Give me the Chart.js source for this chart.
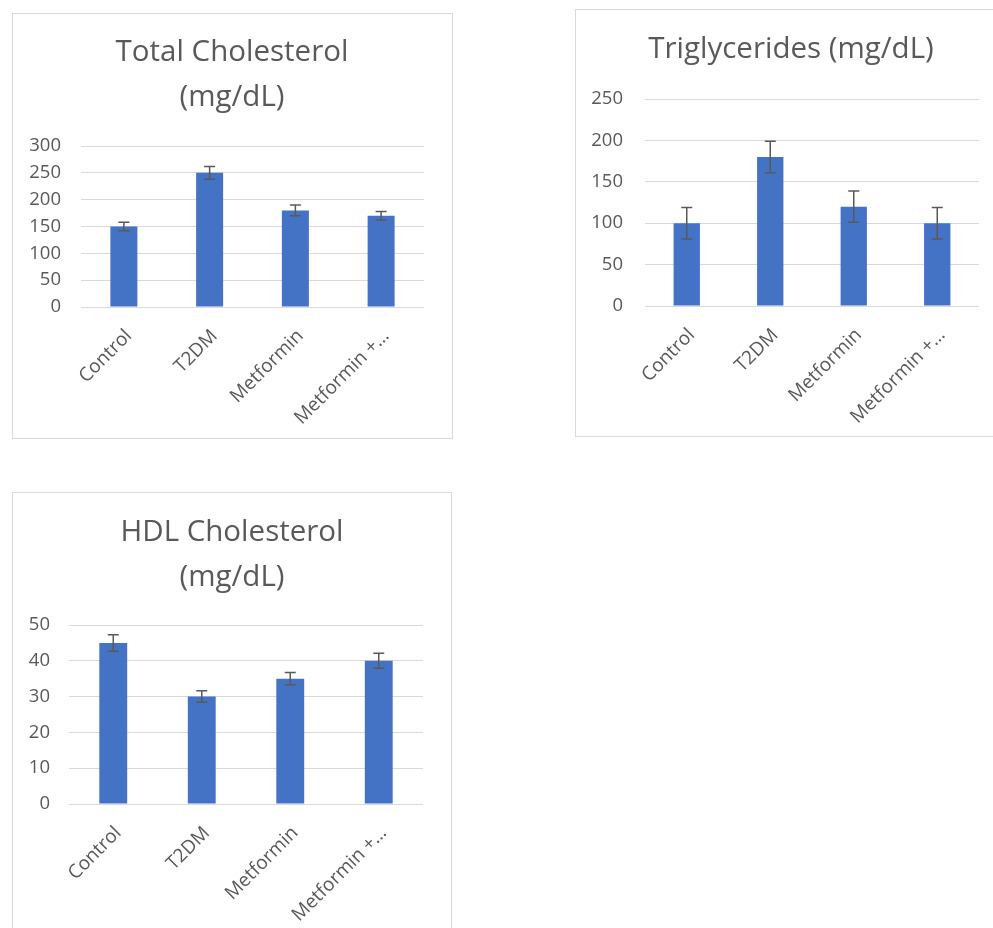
<!DOCTYPE html>
<html><head><meta charset="utf-8">
<script src="https://cdn.jsdelivr.net/npm/chart.js@4/dist/chart.umd.min.js"></script>
<style>
html,body{margin:0;padding:0;background:#fff;overflow:hidden;width:993px;height:928px;}
.frame{position:absolute;border:1px solid #D9D9D9;box-sizing:border-box;}
.cv{position:absolute;}
</style></head><body>
<div class="frame" style="left:12px;top:13px;width:441px;height:426px"></div>
<div class="frame" style="left:575px;top:9px;width:440px;height:428px"></div>
<div class="frame" style="left:12px;top:492px;width:440px;height:460px"></div>
<canvas id="c1" class="cv" style="left:12px;top:13px" width="440" height="425"></canvas>
<canvas id="c2" class="cv" style="left:575px;top:9px" width="432" height="427"></canvas>
<canvas id="c3" class="cv" style="left:12px;top:492px" width="440" height="436"></canvas>
<script>
const categories = ['Control', 'T2DM', 'Metformin', 'Metformin +\u2026'];

const totalCholTitle = ['Total Cholesterol', '(mg/dL)'];
const totalCholValues = [150, 250, 180, 170];
const totalCholErrors = [8, 12, 10, 8];
const totalCholTicks = [0, 50, 100, 150, 200, 250, 300];

const trigTitle = ['Triglycerides (mg/dL)'];
const trigValues = [100, 180, 120, 100];
const trigErrors = [19, 19, 19, 19];
const trigTicks = [0, 50, 100, 150, 200, 250];

const hdlTitle = ['HDL Cholesterol', '(mg/dL)'];
const hdlValues = [45, 30, 35, 40];
const hdlErrors = [2.3, 1.6, 1.7, 2.1];
const hdlTicks = [0, 10, 20, 30, 40, 50];

Chart.defaults.font.family = "'Open Sans', 'Noto Sans', sans-serif";
Chart.defaults.color = '#595959';

const errorBarPlugin = {
  id: 'errorBars',
  afterDatasetsDraw(chart) {
    const ctx = chart.ctx;
    const y = chart.scales.y;
    const ds = chart.data.datasets[0];
    const meta = chart.getDatasetMeta(0);
    ctx.save();
    ctx.strokeStyle = '#595959';
    ctx.lineWidth = 1.5;
    meta.data.forEach((bar, i) => {
      const x = bar.x;
      const yt = y.getPixelForValue(ds.data[i] + ds.errors[i]);
      const yb = y.getPixelForValue(ds.data[i] - ds.errors[i]);
      ctx.beginPath();
      ctx.moveTo(x, yt); ctx.lineTo(x, yb);
      ctx.moveTo(x - 5.5, yt); ctx.lineTo(x + 5.5, yt);
      ctx.moveTo(x - 5.5, yb); ctx.lineTo(x + 5.5, yb);
      ctx.stroke();
    });
    ctx.restore();
  }
};

function makeChart(id, title, values, errors, ticks, g) {
  const step = ticks[1] - ticks[0];
  return new Chart(document.getElementById(id), {
    type: 'bar',
    data: {
      labels: categories,
      datasets: [{
        data: values,
        errors: errors,
        backgroundColor: '#4472C4',
        borderWidth: 0,
        categoryPercentage: 1,
        barPercentage: 0.315
      }]
    },
    plugins: [errorBarPlugin],
    options: {
      responsive: false,
      animation: false,
      devicePixelRatio: 1,
      layout: { autoPadding: false, padding: 0 },
      plugins: {
        legend: { display: false },
        tooltip: { enabled: false },
        title: {
          display: true,
          text: title,
          color: '#595959',
          font: { size: 29.5, weight: 'normal', lineHeight: '45px' },
          padding: { top: g.tTop, bottom: g.tBot }
        }
      },
      scales: {
        x: {
          grid: { display: false },
          border: { display: false },
          ticks: { minRotation: 45, maxRotation: 45, padding: g.xPad, labelOffset: 5, font: { size: 19 }, color: '#595959', autoSkip: false },
          afterFit: (s) => { s.height = g.xH; }
        },
        y: {
          min: ticks[0],
          max: ticks[ticks.length - 1],
          border: { display: false },
          grid: { color: '#D9D9D9', lineWidth: 1, drawTicks: false },
          ticks: { stepSize: step, padding: g.yPad, font: { size: 18.5 }, color: '#595959' },
          afterFit: (s) => { s.width = g.yW; }
        },
        gap: {
          type: 'linear',
          position: 'right',
          display: true,
          grid: { display: false },
          border: { display: false },
          ticks: { display: false },
          afterFit: (s) => { s.width = g.rW; }
        }
      }
    }
  });
}

makeChart('c1', totalCholTitle, totalCholValues, totalCholErrors, totalCholTicks,
  { yW: 69, rW: 28, xH: 131, tTop: 17.5, tBot: 25.5, yPad: 20, xPad: 10 });
makeChart('c2', trigTitle, trigValues, trigErrors, trigTicks,
  { yW: 70, rW: 28, xH: 130, tTop: 18.5, tBot: 26.5, yPad: 22, xPad: 10 });
makeChart('c3', hdlTitle, hdlValues, hdlErrors, hdlTicks,
  { yW: 57, rW: 29, xH: 124, tTop: 18.5, tBot: 24.5, yPad: 19, xPad: 10 });
</script>
</body></html>
